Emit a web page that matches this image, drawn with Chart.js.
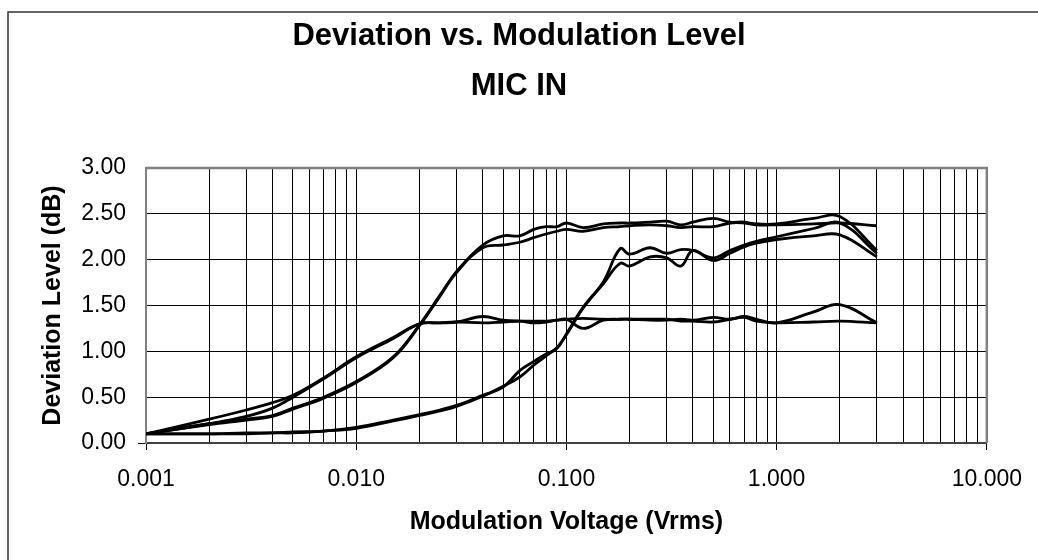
<!DOCTYPE html>
<html>
<head>
<meta charset="utf-8">
<title>Deviation vs. Modulation Level</title>
<script src="https://cdn.jsdelivr.net/npm/chart.js@4.4.1/dist/chart.umd.min.js"></script>
<style>
  html, body { margin: 0; padding: 0; background: #fff; }
  #wrap { width: 1038px; height: 560px; }
</style>
</head>
<body>
<div id="wrap"><canvas id="chart"></canvas></div>
<script>
// Modulation voltage (Vrms) at each measured point
const voltages = [0.001, 0.002, 0.003, 0.004, 0.005, 0.007, 0.01, 0.015, 0.02, 0.025, 0.03, 0.04,
    0.05, 0.06, 0.07, 0.08, 0.09, 0.1, 0.12, 0.15, 0.18, 0.2, 0.25, 0.3, 0.35, 0.4,
    0.5, 0.6, 0.7, 0.8, 1.0, 1.5, 2.0, 3.0];

// Deviation level (dB)
const curveA1 = [0.10, 0.21, 0.26, 0.30, 0.38, 0.50, 0.67, 0.94, 1.29, 1.61, 1.87, 2.16,
    2.26, 2.26, 2.33, 2.36, 2.36, 2.40, 2.35, 2.39, 2.40, 2.40, 2.41, 2.42, 2.38, 2.41,
    2.45, 2.41, 2.41, 2.39, 2.39, 2.45, 2.47, 2.10];
const curveA2 = [0.10, 0.20, 0.25, 0.29, 0.37, 0.49, 0.66, 0.93, 1.28, 1.60, 1.86, 2.13,
    2.16, 2.19, 2.24, 2.28, 2.31, 2.33, 2.31, 2.35, 2.36, 2.37, 2.38, 2.37, 2.35, 2.36,
    2.36, 2.40, 2.40, 2.38, 2.38, 2.39, 2.40, 2.37];
const curveB1 = [0.10, 0.10, 0.11, 0.11, 0.12, 0.13, 0.17, 0.25, 0.31, 0.36, 0.41, 0.52,
    0.61, 0.79, 0.89, 0.97, 1.03, 1.19, 1.48, 1.76, 2.12, 2.06, 2.13, 2.07, 2.11, 2.10,
    2.02, 2.10, 2.16, 2.20, 2.25, 2.34, 2.40, 2.07];
const curveB2 = [0.10, 0.10, 0.10, 0.11, 0.11, 0.13, 0.16, 0.24, 0.30, 0.35, 0.40, 0.51,
    0.62, 0.72, 0.85, 0.95, 1.04, 1.18, 1.47, 1.74, 1.96, 1.93, 2.03, 2.02, 1.93, 2.10,
    1.99, 2.07, 2.14, 2.18, 2.22, 2.26, 2.27, 2.03];
const curveC1 = [0.10, 0.26, 0.36, 0.44, 0.52, 0.71, 0.94, 1.15, 1.30, 1.31, 1.32, 1.38,
    1.34, 1.33, 1.33, 1.33, 1.34, 1.35, 1.36, 1.35, 1.35, 1.35, 1.34, 1.34, 1.35, 1.34,
    1.37, 1.35, 1.38, 1.35, 1.31, 1.43, 1.51, 1.31];
const curveC2 = [0.10, 0.21, 0.29, 0.38, 0.50, 0.70, 0.93, 1.14, 1.30, 1.31, 1.32, 1.31,
    1.32, 1.33, 1.31, 1.32, 1.34, 1.35, 1.25, 1.34, 1.35, 1.35, 1.35, 1.35, 1.33, 1.33,
    1.32, 1.35, 1.37, 1.33, 1.31, 1.32, 1.33, 1.31];

// Axis ticks
const decadeTicks = [0.001, 0.01, 0.1, 1, 10];
const yTicks = [0, 0.5, 1, 1.5, 2, 2.5, 3];

// minor grid lines 1..9 inside every decade
const xGrid = [];
decadeTicks.slice(0, -1).forEach(d => {
    for (let k = 1; k <= 9; k++) xGrid.push(Number((k * d).toPrecision(3)));
});
xGrid.push(10);

const isDecade = v => decadeTicks.some(d => Math.abs(v - d) < d * 1e-6);

const allCurves = [curveA1, curveA2, curveB1, curveB2, curveC1, curveC2];

// outer frame + plot border, like the spreadsheet export
const framePlugin = {
    id: "frame",
    beforeDraw(chart) {
        const c = chart.ctx;
        c.save();
        c.fillStyle = "#fff";
        c.fillRect(0, 0, chart.width, chart.height);
        c.strokeStyle = "#333";
        c.lineWidth = 1.5;
        c.beginPath();
        c.moveTo(8, chart.height);
        c.lineTo(8, 12);
        c.lineTo(chart.width, 12);
        c.stroke();
        c.restore();
    },
    afterDatasetsDraw(chart) {
        const a = chart.chartArea;
        const c = chart.ctx;
        c.save();
        c.strokeStyle = "#808080";
        c.lineWidth = 2.5;
        c.beginPath();
        c.moveTo(a.left, a.top);
        c.lineTo(a.right, a.top);
        c.lineTo(a.right, a.bottom);
        c.stroke();
        c.restore();
    }
};

const font = "'Liberation Sans', Arial, Helvetica, sans-serif";
Chart.defaults.font.family = font;
Chart.defaults.color = "#000";

new Chart(document.getElementById("chart"), {
    type: "line",
    data: {
        datasets: allCurves.map((s, n) => ({
            label: "Series " + (n + 1),
            data: voltages.map((v, i) => ({ x: v, y: s[i] })),
            borderColor: "#000",
            borderWidth: 2.8,
            pointRadius: 0,
            tension: 0.4,
            fill: false
        }))
    },
    options: {
        responsive: true,
        maintainAspectRatio: false,
        animation: false,
        devicePixelRatio: 1,
        // equal side padding keeps the title centred on the page
        layout: { padding: { top: 0, left: 50, right: 50, bottom: 0 } },
        plugins: {
            legend: { display: false },
            tooltip: { enabled: false },
            title: {
                display: true,
                text: ["Deviation vs. Modulation Level", "MIC IN"],
                color: "#000",
                font: { size: 31, weight: "bold", lineHeight: 1.613 },
                padding: { top: 11, bottom: 57 }
            }
        },
        scales: {
            x: {
                type: "logarithmic",
                min: 0.001,
                max: 10,
                afterBuildTicks: s => { s.ticks = xGrid.map(v => ({ value: v })); },
                afterFit: s => { s.height = 117; },
                ticks: {
                    autoSkip: false,
                    maxRotation: 0,
                    padding: 16,
                    color: "#000",
                    font: { size: 23 },
                    callback: v => isDecade(v) ? v.toFixed(3) : ""
                },
                grid: {
                    color: "#000",
                    lineWidth: 1,
                    tickLength: 7,
                    tickColor: ctx => ctx.tick && isDecade(ctx.tick.value) ? "#000" : "rgba(0,0,0,0)"
                },
                border: { color: "#404040", width: 2 },
                title: {
                    display: true,
                    text: "Modulation Voltage (Vrms)",
                    color: "#000",
                    font: { size: 25, weight: "bold" },
                    padding: { top: 0, bottom: 23 }
                }
            },
            y: {
                min: 0,
                max: 3,
                afterBuildTicks: s => { s.ticks = yTicks.map(v => ({ value: v })); },
                afterFit: s => { s.width = 96; },
                ticks: {
                    padding: 12,
                    color: "#000",
                    font: { size: 23 },
                    callback: v => Number(v).toFixed(2)
                },
                grid: {
                    color: "#000",
                    lineWidth: 1,
                    tickLength: 8,
                    tickColor: ctx => ctx.tick && ctx.tick.value === 0 ? "#000" : "rgba(0,0,0,0)"
                },
                border: { color: "#808080", width: 2 },
                title: {
                    display: true,
                    text: "Deviation Level (dB)",
                    color: "#000",
                    font: { size: 25, weight: "bold" },
                    padding: { top: -12, bottom: 0 }
                }
            }
        }
    },
    plugins: [framePlugin]
});
</script>
</body>
</html>
